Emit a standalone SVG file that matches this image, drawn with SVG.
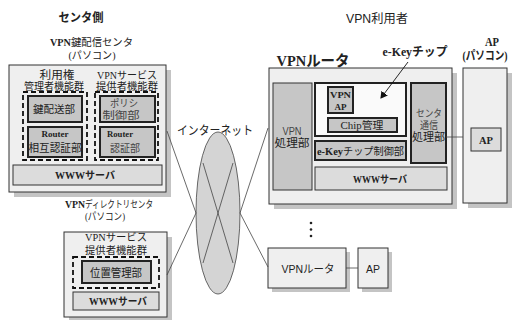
<svg xmlns="http://www.w3.org/2000/svg" width="518" height="320" viewBox="0 0 518 320">
<style>
text{font-family:"Liberation Serif","Noto Sans CJK JP",serif;fill:#222;text-anchor:middle}
.st{text-anchor:start}
.s{font-family:"Liberation Sans","Noto Sans CJK JP",sans-serif}
.b{font-weight:bold}
.sh{fill:#c4c4c4;stroke:none}
.outer{fill:#efefef;stroke:#333;stroke-width:1}
.mid{fill:#c6c6c6;stroke:#222;stroke-width:2}
.midt{fill:#c6c6c6;stroke:#333;stroke-width:1}
.www{fill:#dcdcdc;stroke:#333;stroke-width:1}
.dash{fill:none;stroke:#111;stroke-width:1.8;stroke-dasharray:5,3}
.ln{stroke:#444;stroke-width:0.8;fill:none}
.g{fill:#444}
</style>
<defs>
<marker id="ah" markerWidth="8" markerHeight="8" refX="6" refY="4" orient="auto" markerUnits="userSpaceOnUse">
<path d="M0,0 L7,4 L0,8 z" fill="#111"/>
</marker>
</defs>

<g id="labels">
<text x="81" y="22" class="s b" font-size="12" textLength="45" lengthAdjust="spacingAndGlyphs">センタ側</text>
<text x="377" y="23" class="s" font-size="12" textLength="62" lengthAdjust="spacingAndGlyphs">VPN利用者</text>
</g>

<g id="key-center">
<text x="50" y="46" class="st b" font-size="10.5" textLength="21" lengthAdjust="spacingAndGlyphs">VPN</text>
<text x="71" y="46" class="st" font-size="10.5" textLength="62" lengthAdjust="spacingAndGlyphs">鍵配信センタ</text>
<text x="92" y="59" font-size="10.5" textLength="47" lengthAdjust="spacingAndGlyphs">(パソコン)</text>
<rect class="sh" x="14" y="70" width="157" height="127"/>
<rect class="outer" x="9" y="65" width="157" height="127"/>
<text x="57" y="79" font-size="11" textLength="35" lengthAdjust="spacingAndGlyphs">利用権</text>
<text x="54" y="90" font-size="10" textLength="60" lengthAdjust="spacingAndGlyphs">管理者機能群</text>
<text x="127" y="79" font-size="10.5" textLength="60" lengthAdjust="spacingAndGlyphs">VPNサービス</text>
<text x="127" y="90" font-size="10" textLength="62" lengthAdjust="spacingAndGlyphs">提供者機能群</text>
<rect class="dash" x="23" y="92" width="64" height="68"/>
<rect class="dash" x="95" y="92" width="63" height="68"/>
<rect class="mid" x="28" y="96" width="54" height="26"/>
<text x="54" y="113" font-size="10.5" textLength="42" lengthAdjust="spacingAndGlyphs">鍵配送部</text>
<rect class="mid" x="28" y="127" width="54" height="30"/>
<text x="55" y="137" class="b" font-size="9" textLength="27" lengthAdjust="spacingAndGlyphs">Router</text>
<text x="55" y="152" font-size="11" textLength="53" lengthAdjust="spacingAndGlyphs">相互認証部</text>
<rect class="mid" x="100" y="96" width="55" height="26"/>
<text x="124" y="107" font-size="10" class="g" textLength="28" lengthAdjust="spacingAndGlyphs">ポリシ</text>
<text x="121" y="119" font-size="10" class="g" textLength="37" lengthAdjust="spacingAndGlyphs">制御部</text>
<rect class="mid" x="100" y="127" width="55" height="30"/>
<text x="120" y="137" class="b" font-size="9" textLength="26" lengthAdjust="spacingAndGlyphs">Router</text>
<text x="125" y="152" font-size="10.5" class="g" textLength="30" lengthAdjust="spacingAndGlyphs">認証部</text>
<rect class="www" x="13" y="165" width="149" height="20"/>
<text x="85" y="179" class="b" font-size="10" textLength="60" lengthAdjust="spacingAndGlyphs">WWWサーバ</text>
</g>

<g id="dir-center">
<text x="65" y="208" class="st b" font-size="10" textLength="20" lengthAdjust="spacingAndGlyphs">VPN</text>
<text x="85" y="208" class="st" font-size="10" textLength="68" lengthAdjust="spacingAndGlyphs">ディレクトリセンタ</text>
<text x="105" y="220" font-size="10" textLength="40" lengthAdjust="spacingAndGlyphs">(パソコン)</text>
<rect class="sh" x="69" y="237" width="103" height="85"/>
<rect class="outer" x="64" y="232" width="103" height="85"/>
<text x="116" y="241" font-size="10.5" textLength="62" lengthAdjust="spacingAndGlyphs">VPNサービス</text>
<text x="116" y="254" font-size="10" textLength="62" lengthAdjust="spacingAndGlyphs">提供者機能群</text>
<rect class="dash" x="73" y="257" width="86" height="31"/>
<rect class="mid" x="82" y="261" width="69" height="22"/>
<text x="116" y="277" font-size="11.5" textLength="52" lengthAdjust="spacingAndGlyphs">位置管理部</text>
<rect class="www" x="73" y="292" width="86" height="18"/>
<text x="118" y="305" class="b" font-size="10" textLength="58" lengthAdjust="spacingAndGlyphs">WWWサーバ</text>
</g>

<g id="internet">
<text x="215" y="135" class="s" font-size="12" textLength="76" lengthAdjust="spacingAndGlyphs">インターネット</text>
<ellipse cx="218" cy="213" rx="22" ry="81" fill="#d4d4d4" stroke="#444" stroke-width="0.8"/>
<path class="ln" d="M203,163 L233,263 M233,163 L203,263"/>
</g>

<g id="vpn-router">
<text x="313" y="66" font-size="15" textLength="73" lengthAdjust="spacingAndGlyphs" class="b">VPNルータ</text>
<text x="415" y="56" font-size="12" textLength="65" lengthAdjust="spacingAndGlyphs" class="b">e-Keyチップ</text>
<rect class="sh" x="274" y="73" width="183" height="136"/>
<rect class="outer" x="269" y="68" width="183" height="136"/>
<rect class="midt" x="273" y="83" width="39" height="107"/>
<text x="292" y="135" class="s g" font-size="10" textLength="19" lengthAdjust="spacingAndGlyphs">VPN</text>
<text x="292" y="147" font-size="11" textLength="35" lengthAdjust="spacingAndGlyphs">処理部</text>
<rect x="315" y="83" width="91" height="53" fill="#fafafa" stroke="#222" stroke-width="2"/>
<rect class="mid" x="328" y="87" width="25" height="26"/>
<text x="340.5" y="98" class="b" font-size="9" textLength="21" lengthAdjust="spacingAndGlyphs">VPN</text>
<text x="340.5" y="110" class="b" font-size="9" textLength="12" lengthAdjust="spacingAndGlyphs">AP</text>
<rect class="mid" x="328" y="118" width="69" height="14"/>
<text x="362" y="129" font-size="10" textLength="43" lengthAdjust="spacingAndGlyphs">Chip管理</text>
<rect class="mid" x="315" y="141" width="91" height="19"/>
<text x="317" y="155" class="st b" font-size="9.5" textLength="26" lengthAdjust="spacingAndGlyphs">e-Key</text>
<text x="343" y="155" class="st" font-size="10" textLength="61" lengthAdjust="spacingAndGlyphs">チップ制御部</text>
<rect class="mid" x="411" y="83" width="35" height="80"/>
<text x="429" y="117" font-size="10" class="g" textLength="26" lengthAdjust="spacingAndGlyphs">センタ</text>
<text x="429" y="129" font-size="10" class="g" textLength="18" lengthAdjust="spacingAndGlyphs">通信</text>
<text x="428.5" y="141" font-size="11" textLength="33" lengthAdjust="spacingAndGlyphs">処理部</text>
<rect class="www" x="315" y="167" width="132" height="23"/>
<text x="380" y="183" class="b" font-size="10" textLength="54" lengthAdjust="spacingAndGlyphs">WWWサーバ</text>
</g>

<g id="ap-pc">
<text x="492" y="46" class="b" font-size="12" textLength="14" lengthAdjust="spacingAndGlyphs">AP</text>
<text x="485" y="60" class="b" font-size="12" textLength="45" lengthAdjust="spacingAndGlyphs">(パソコン)</text>
<rect class="sh" x="468" y="73" width="44" height="135"/>
<rect class="outer" x="463" y="68" width="44" height="135"/>
<rect class="www" x="471" y="128" width="30" height="23"/>
<text x="486" y="144" class="b" font-size="10" textLength="14" lengthAdjust="spacingAndGlyphs">AP</text>
</g>

<g id="vpn-router2">
<rect class="sh" x="272" y="252" width="78" height="40"/>
<rect class="outer" x="268" y="248" width="78" height="40"/>
<text x="308" y="273" class="s" font-size="11" textLength="53" lengthAdjust="spacingAndGlyphs">VPNルータ</text>
</g>

<g id="ap2">
<rect class="sh" x="362" y="252" width="30" height="40"/>
<rect class="outer" x="358" y="248" width="30" height="40"/>
<text x="373" y="273" class="s" font-size="11" textLength="14" lengthAdjust="spacingAndGlyphs">AP</text>
</g>

<g id="dots" fill="#222">
<circle cx="311" cy="223" r="1.3"/>
<circle cx="311" cy="229.5" r="1.3"/>
<circle cx="311" cy="236" r="1.3"/>
</g>

<g id="connectors">
<path class="ln" d="M167,131 L196,213 L167,275"/>
<path class="ln" d="M268,128 L240,213 L268,267"/>
<path class="ln" d="M446,137 L463,137"/>
<path class="ln" d="M346,268 L358,268"/>
<path d="M408,62 L381,98" stroke="#111" stroke-width="0.9" fill="none" marker-end="url(#ah)"/>
</g>
</svg>
